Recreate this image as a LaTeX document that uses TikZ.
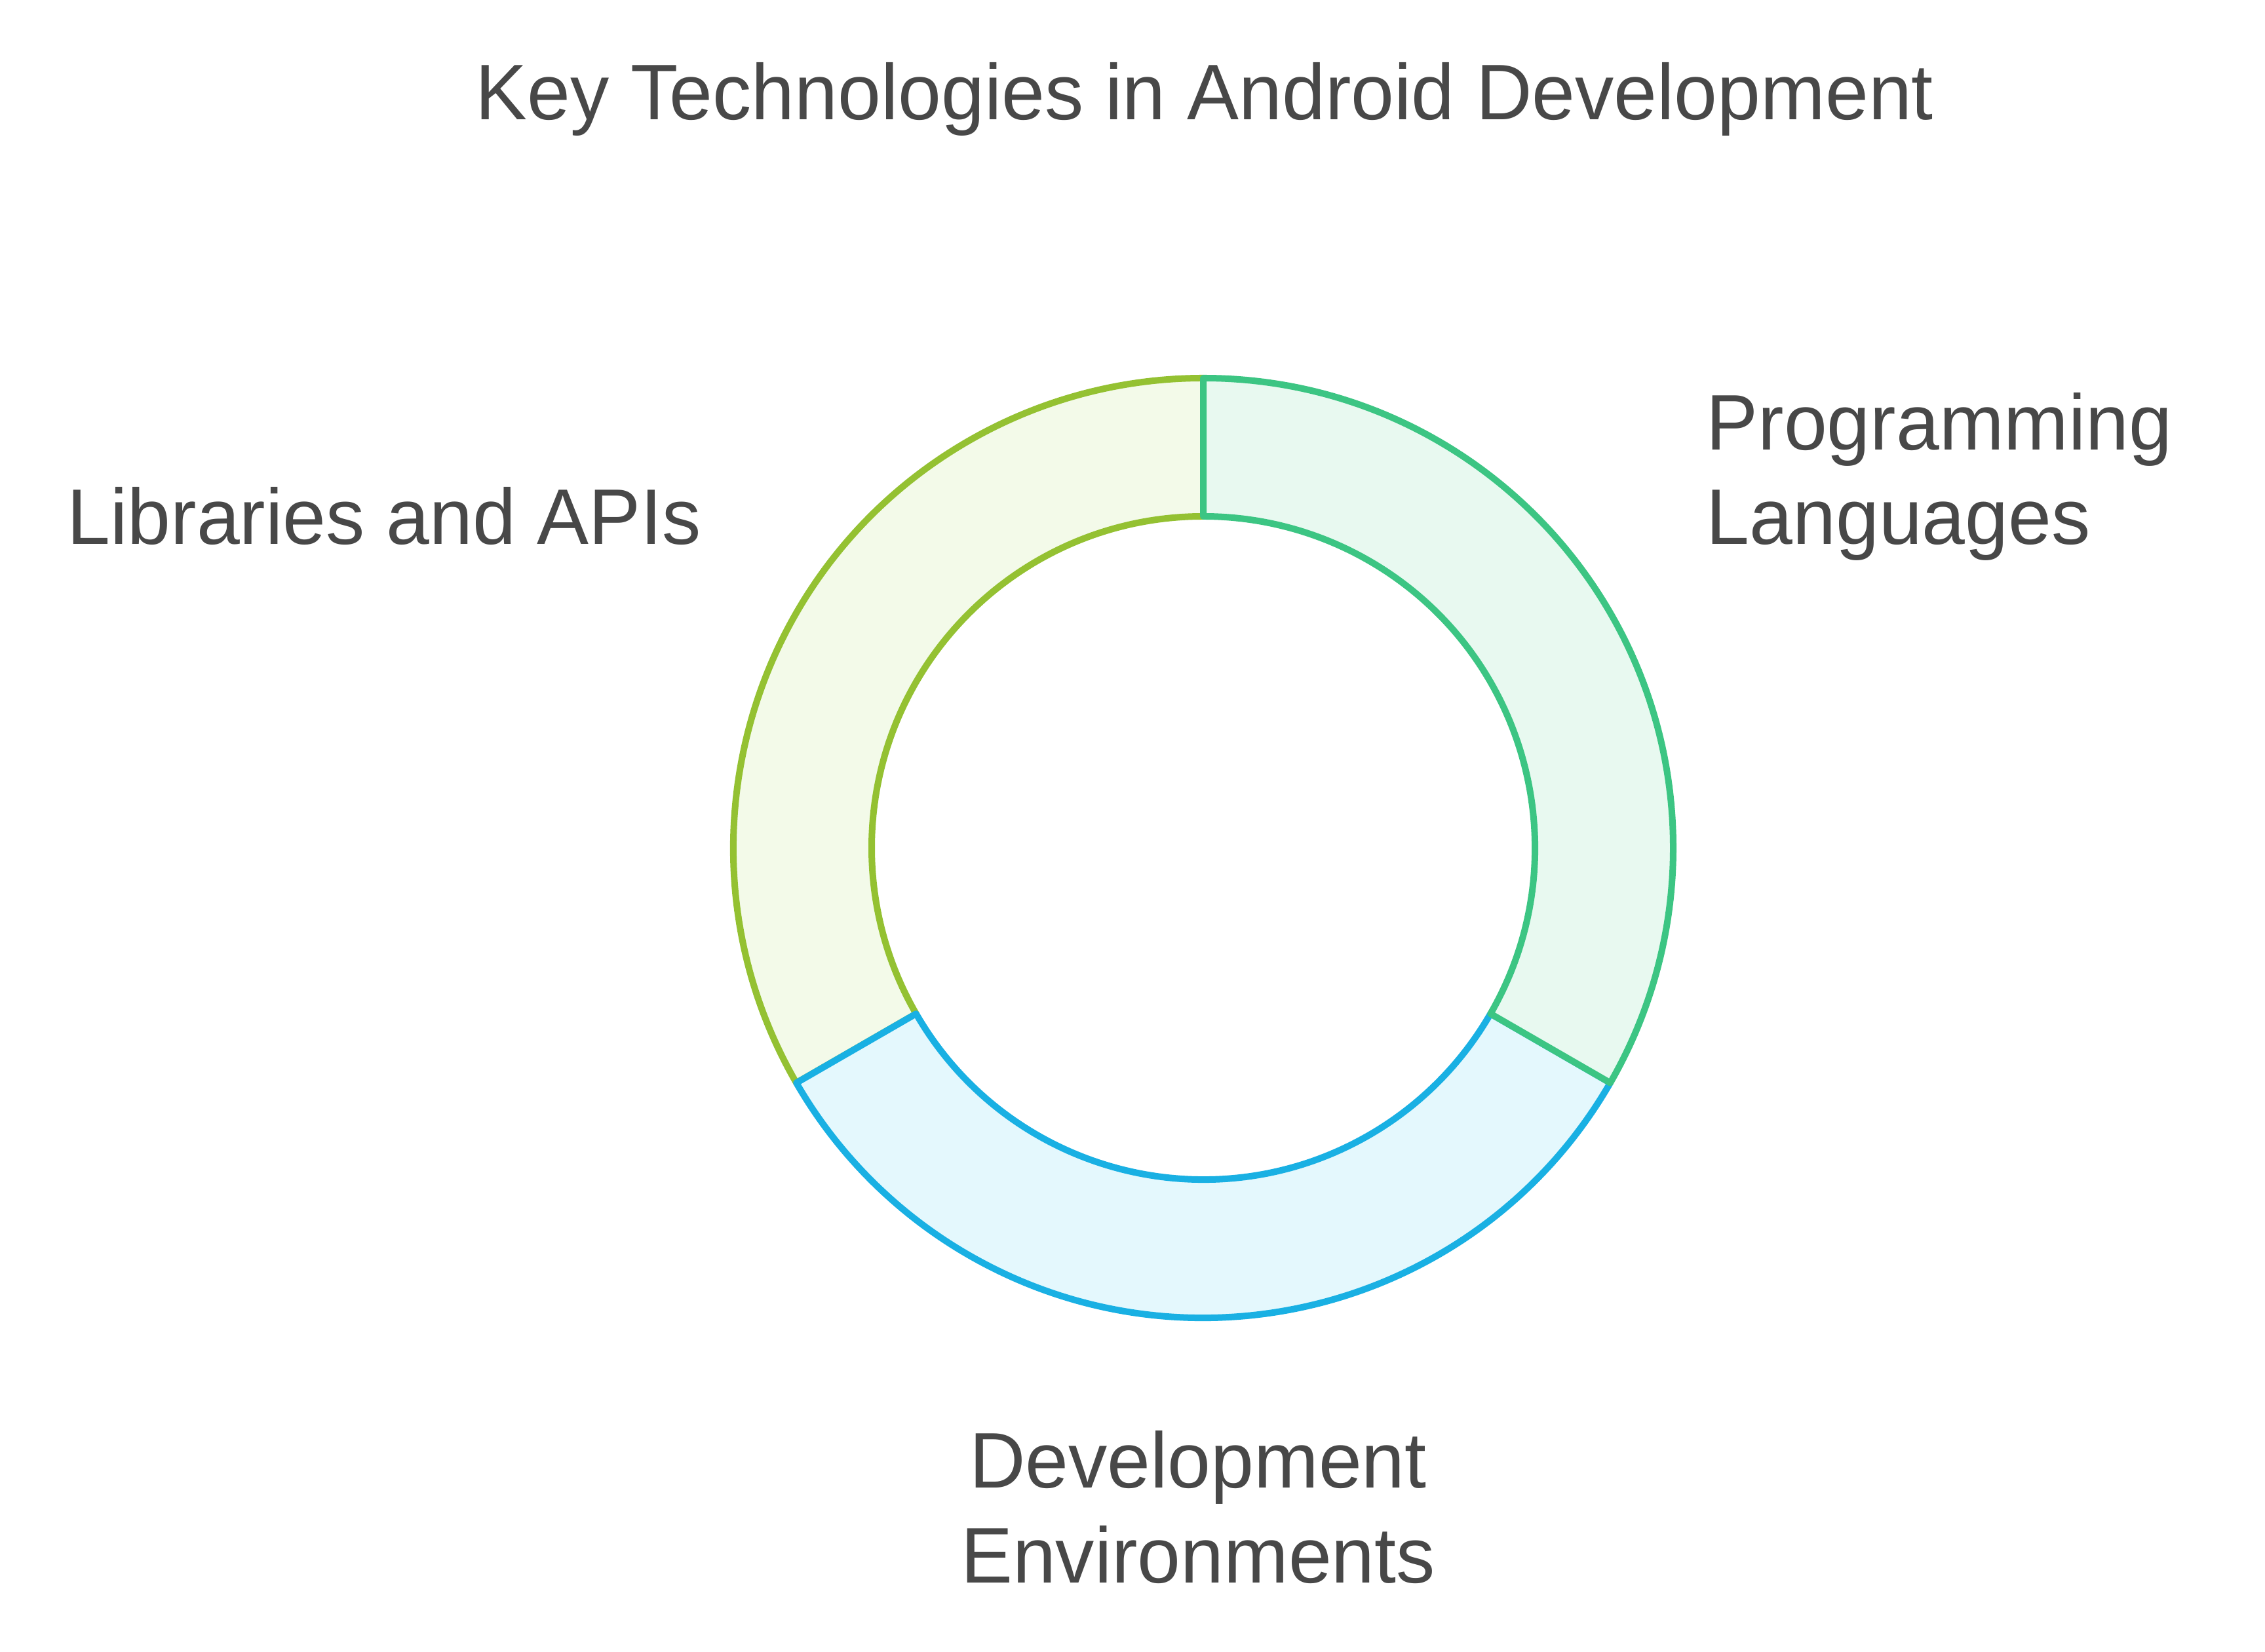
\documentclass[tikz,border=0pt]{standalone}
\usepackage{fontspec}
\setmainfont[FakeStretch=0.985]{Liberation Sans}
\definecolor{txt}{HTML}{484848}
\definecolor{gstroke}{HTML}{3CC583}
\definecolor{gfill}{HTML}{E8F9F0}
\definecolor{bstroke}{HTML}{19B0E3}
\definecolor{bfill}{HTML}{E4F8FD}
\definecolor{ostroke}{HTML}{94C132}
\definecolor{ofill}{HTML}{F3FAE9}
\begin{document}
\begin{tikzpicture}[
  lbl/.style={inner sep=0pt, text=txt, font=\fontsize{34.2}{41}\selectfont},
  seg/.style={line width=0.1cm, line join=round}
]
\useasboundingbox (0,0) rectangle (34.56,25.2);
\coordinate (c) at (18.36,12.26);
\def\Ro{7.17}
\def\Ri{5.06}
% left segment (olive)
\draw[seg, draw=ostroke, fill=ofill] ([shift={(c)}]210:\Ro) arc[start angle=210, end angle=90, radius=\Ro]
  -- ([shift={(c)}]90:\Ri) arc[start angle=90, end angle=210, radius=\Ri] -- cycle;
% bottom segment (blue)
\draw[seg, draw=bstroke, fill=bfill] ([shift={(c)}]-30:\Ro) arc[start angle=-30, end angle=-150, radius=\Ro]
  -- ([shift={(c)}]-150:\Ri) arc[start angle=-150, end angle=-30, radius=\Ri] -- cycle;
% right segment (green)
\draw[seg, draw=gstroke, fill=gfill] ([shift={(c)}]90:\Ro) arc[start angle=90, end angle=-30, radius=\Ro]
  -- ([shift={(c)}]-30:\Ri) arc[start angle=-30, end angle=90, radius=\Ri] -- cycle;
% texts
\node[lbl, anchor=base] (title) at (18.38,23.37) {Key Technologies in Android Development};
\node[lbl, anchor=base west] (lib) at (1.02,16.89) {Libraries and APIs};
\node[lbl, anchor=base west, align=left] (prog) at (26.03,16.89) {Programming\\Languages};
\node[lbl, anchor=base, align=center] (dev) at (18.28,1.05) {Development\\Environments};
\end{tikzpicture}
\end{document}
